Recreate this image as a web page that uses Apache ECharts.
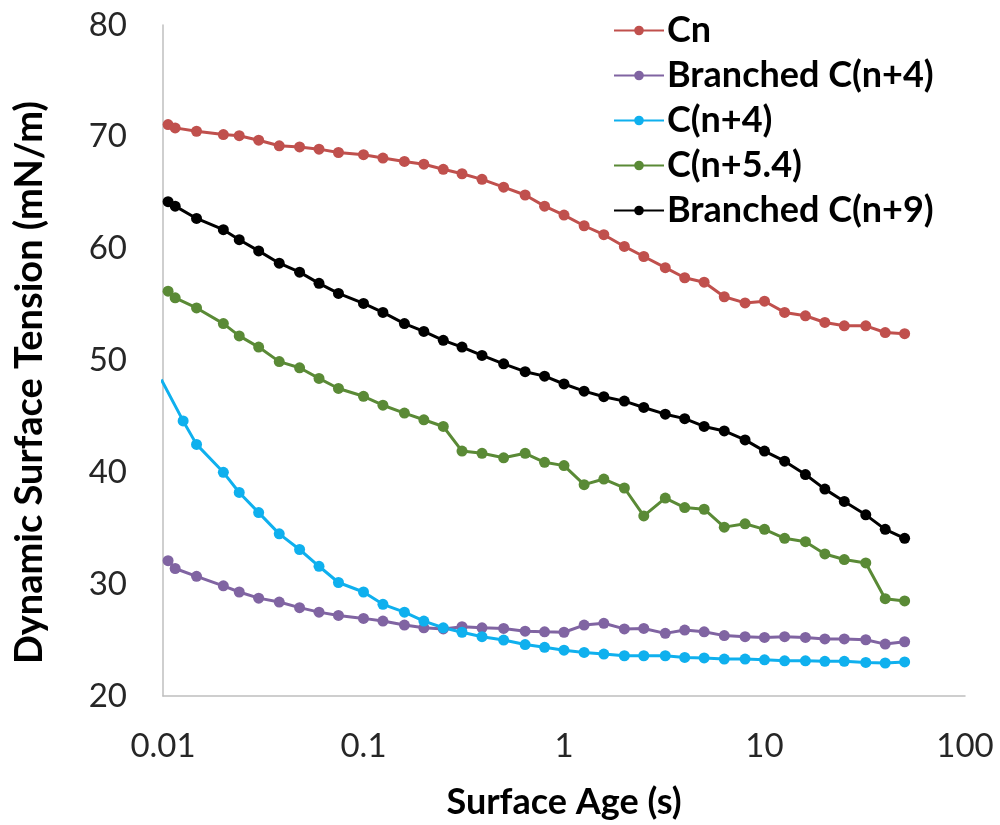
<!DOCTYPE html>
<html>
<head>
<meta charset="utf-8">
<script src="https://cdn.jsdelivr.net/npm/echarts@6/dist/echarts.min.js"></script>
<style>
html,body{margin:0;padding:0;background:#fff;}
#chart{width:1000px;height:825px;}
</style>
</head>
<body>
<div id="chart"></div>
<script>
// Surface age (s) for each point
const ageX = [0.0106, 0.0115, 0.0147, 0.02, 0.024, 0.03, 0.038, 0.048, 0.06, 0.075,
  0.1, 0.125, 0.16, 0.2, 0.25, 0.31, 0.39, 0.5, 0.64, 0.8,
  1, 1.26, 1.58, 2, 2.5, 3.2, 4, 5, 6.3, 8,
  10, 12.6, 16, 20, 25, 32, 40, 50];
const ageXcn4 = [0.0098, 0.0126, 0.0147, 0.02, 0.024, 0.03, 0.038, 0.048, 0.06, 0.075,
  0.1, 0.125, 0.16, 0.2, 0.25, 0.31, 0.39, 0.5, 0.64, 0.8,
  1, 1.26, 1.58, 2, 2.5, 3.2, 4, 5, 6.3, 8,
  10, 12.6, 16, 20, 25, 32, 40, 50];

const seriesNames = ['Cn', 'Branched C(n+4)', 'C(n+4)', 'C(n+5.4)', 'Branched C(n+9)'];

const cn = [71.1, 70.8, 70.5, 70.2, 70.1, 69.7, 69.2, 69.1, 68.9, 68.6,
  68.4, 68.1, 67.8, 67.55, 67.1, 66.7, 66.2, 65.5, 64.8, 63.8,
  63.0, 62.05, 61.25, 60.2, 59.3, 58.3, 57.4, 57.0, 55.7, 55.15,
  55.3, 54.3, 54.0, 53.4, 53.1, 53.1, 52.5, 52.4];
const branchedCn4 = [32.1, 31.4, 30.7, 29.85, 29.3, 28.75, 28.4, 27.9, 27.5, 27.2,
  26.94, 26.7, 26.34, 26.1, 26.0, 26.2, 26.1, 26.04, 25.8, 25.74,
  25.7, 26.34, 26.5, 26.0, 26.04, 25.6, 25.9, 25.74, 25.4, 25.3,
  25.24, 25.3, 25.24, 25.1, 25.1, 25.03, 24.64, 24.85];
const cn4 = [48.3, 44.6, 42.5, 40.0, 38.2, 36.4, 34.5, 33.1, 31.6, 30.15,
  29.3, 28.2, 27.5, 26.7, 26.1, 25.7, 25.3, 25.0, 24.6, 24.35,
  24.1, 23.9, 23.75, 23.6, 23.6, 23.6, 23.45, 23.4, 23.3, 23.3,
  23.24, 23.15, 23.15, 23.1, 23.1, 23.0, 22.95, 23.05];
const cn54 = [56.2, 55.6, 54.7, 53.3, 52.2, 51.2, 49.9, 49.35, 48.4, 47.5,
  46.8, 46.0, 45.3, 44.7, 44.1, 41.9, 41.7, 41.3, 41.7, 40.9,
  40.6, 38.9, 39.4, 38.6, 36.1, 37.7, 36.85, 36.7, 35.1, 35.4,
  34.9, 34.1, 33.8, 32.7, 32.2, 31.9, 28.7, 28.5];
const branchedCn9 = [64.2, 63.8, 62.7, 61.7, 60.8, 59.8, 58.7, 57.9, 56.9, 56.0,
  55.1, 54.3, 53.3, 52.6, 51.8, 51.2, 50.45, 49.7, 49.0, 48.6,
  47.9, 47.26, 46.76, 46.37, 45.8, 45.2, 44.8, 44.1, 43.7, 42.9,
  41.9, 41.0, 39.8, 38.5, 37.4, 36.2, 34.9, 34.1];

const colors = ['#C0504D', '#8064A2', '#0FB0EE', '#5A8A36', '#000000'];
const xs = [ageX, ageX, ageXcn4, ageX, ageX];
const ys = [cn, branchedCn4, cn4, cn54, branchedCn9];

const FONT = 'Lato';
const chart = echarts.init(document.getElementById('chart'), null, {renderer: 'canvas'});
chart.setOption({
  animation: false,
  backgroundColor: '#fff',
  color: colors,
  grid: {left: 163, right: 35, top: 25, bottom: 129, containLabel: false},
  legend: {
    orient: 'vertical', left: 608, top: 7,
    itemWidth: 50, itemHeight: 12, itemGap: 8,
    textStyle: {fontFamily: FONT, fontWeight: 'bold', fontSize: 36, lineHeight: 37, color: '#000', padding: [0,0,0,-2]},
    data: seriesNames
  },
  xAxis: {
    type: 'log', logBase: 10, min: 0.01, max: 100,
    name: 'Surface Age (s)', nameLocation: 'middle', nameGap: 88,
    nameTextStyle: {fontFamily: FONT, fontWeight: 'bold', fontSize: 36, color: '#000'},
    axisLine: {show: true, lineStyle: {color: '#BFBFBF', width: 1.5}},
    axisTick: {show: false},
    splitLine: {show: false},
    minorTick: {show: false},
    axisLabel: {fontFamily: FONT, fontSize: 33, color: '#262626', margin: 34,
      formatter: function (v) { return String(+v.toPrecision(6)); }}
  },
  yAxis: {
    type: 'value', min: 20, max: 80, interval: 10,
    name: 'Dynamic Surface Tension (mN/m)', nameLocation: 'middle', nameGap: 114,
    nameTextStyle: {fontFamily: FONT, fontWeight: 'bold', fontSize: 38, color: '#000', padding: [0, 44, 0, 0]},
    axisLine: {show: true, lineStyle: {color: '#BFBFBF', width: 1.5}},
    axisTick: {show: false},
    splitLine: {show: false},
    axisLabel: {fontFamily: FONT, fontSize: 33, color: '#262626', margin: 36}
  },
  series: seriesNames.map((n, i) => ({
    name: n, type: 'line', clip: true,
    symbol: 'circle', symbolSize: 11,
    lineStyle: {width: 3, color: colors[i]},
    itemStyle: {color: colors[i]},
    data: xs[i].map((x, j) => [x, ys[i][j]])
  }))
});
</script>
</body>
</html>
